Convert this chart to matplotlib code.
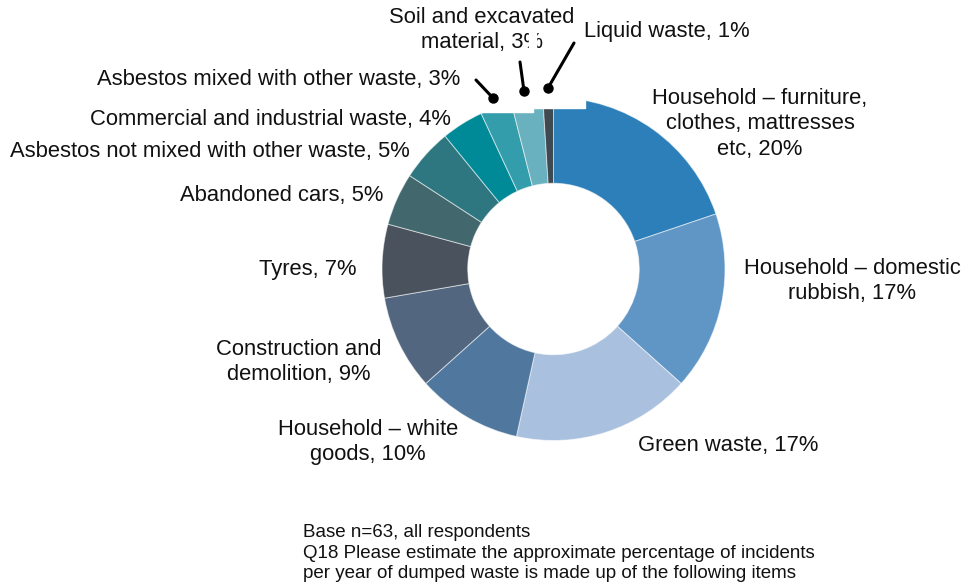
import matplotlib.pyplot as plt
from matplotlib.patches import Rectangle

plt.rcParams['font.family'] = ['Liberation Sans', 'DejaVu Sans']

labels = ['Household \u2013 furniture,\nclothes, mattresses\netc, 20%',
          'Household \u2013 domestic\nrubbish, 17%',
          'Green waste, 17%',
          'Household \u2013 white\ngoods, 10%',
          'Construction and\ndemolition, 9%',
          'Tyres, 7%',
          'Abandoned cars, 5%',
          'Asbestos not mixed with other waste, 5%',
          'Commercial and industrial waste, 4%',
          'Asbestos mixed with other waste, 3%',
          'Soil and excavated\nmaterial, 3%',
          'Liquid waste, 1%']
values = [20, 17, 17, 10, 9, 7, 5, 5, 4, 3, 3, 1]
colors = ['#2C7FB8', '#5F96C5', '#A9C1DE', '#50789E', '#52677F', '#4A525E',
          '#42686E', '#2E7780', '#008A98', '#349DAB', '#6AB1C0', '#3E4950']

footer = ('Base n=63, all respondents\n'
          'Q18 Please estimate the approximate percentage of incidents\n'
          'per year of dumped waste is made up of the following items')

H = 588
fig = plt.figure(figsize=(9.63, 5.88), dpi=100)
ax = fig.add_axes([0, 0, 1, 1])

cx, cy, R = 553.5, H - 269, 171.5
ax.pie(values, colors=colors, startangle=90, counterclock=False,
       center=(cx, cy), radius=R,
       wedgeprops=dict(width=R * 0.5, edgecolor=(1, 1, 1, 0.55), linewidth=0.7))

ax.set_xlim(0, 963)
ax.set_ylim(0, H)
ax.set_aspect('equal')
ax.axis('off')

# label centres in pixel coords (x, y from top)
pos = [(760, 124), (852, 281), (728, 446), (368, 442), (299, 362), (308, 270),
       (282, 196), (210, 152), (270, 120), (279, 79), (482, 30), (667, 32)]
for lab, (x, y) in zip(labels, pos):
    ax.text(x, H - y, lab, ha='center', va='center', fontsize=15.8,
            linespacing=1.3, color='#111111', zorder=3)

# white label boxes clipping the top of the ring
ax.add_patch(Rectangle((478, H - 111.5), 55, 111.5, color='white', zorder=2.5))
ax.add_patch(Rectangle((529, H - 53), 7, 24, color='white', zorder=4))
ax.add_patch(Rectangle((533, H - 108), 52, 108 - 55, color='white', zorder=2.5))

# leader lines for the small slices
leaders = [((476, 80), (493, 98)), ((520, 62), (524, 91)), ((574, 43), (548, 88))]
for (x0, y0), (x1, y1) in leaders:
    ax.plot([x0, x1], [H - y0, H - y1], color='black', lw=2.2, zorder=5,
            solid_capstyle='round')
    ax.plot(x1, H - y1, 'o', color='black', ms=6.5, zorder=5)

ax.text(303, H - 553, footer, ha='left', va='center', fontsize=13.5,
        linespacing=1.25, color='#111111')

fig.savefig('out.png', dpi=100)
